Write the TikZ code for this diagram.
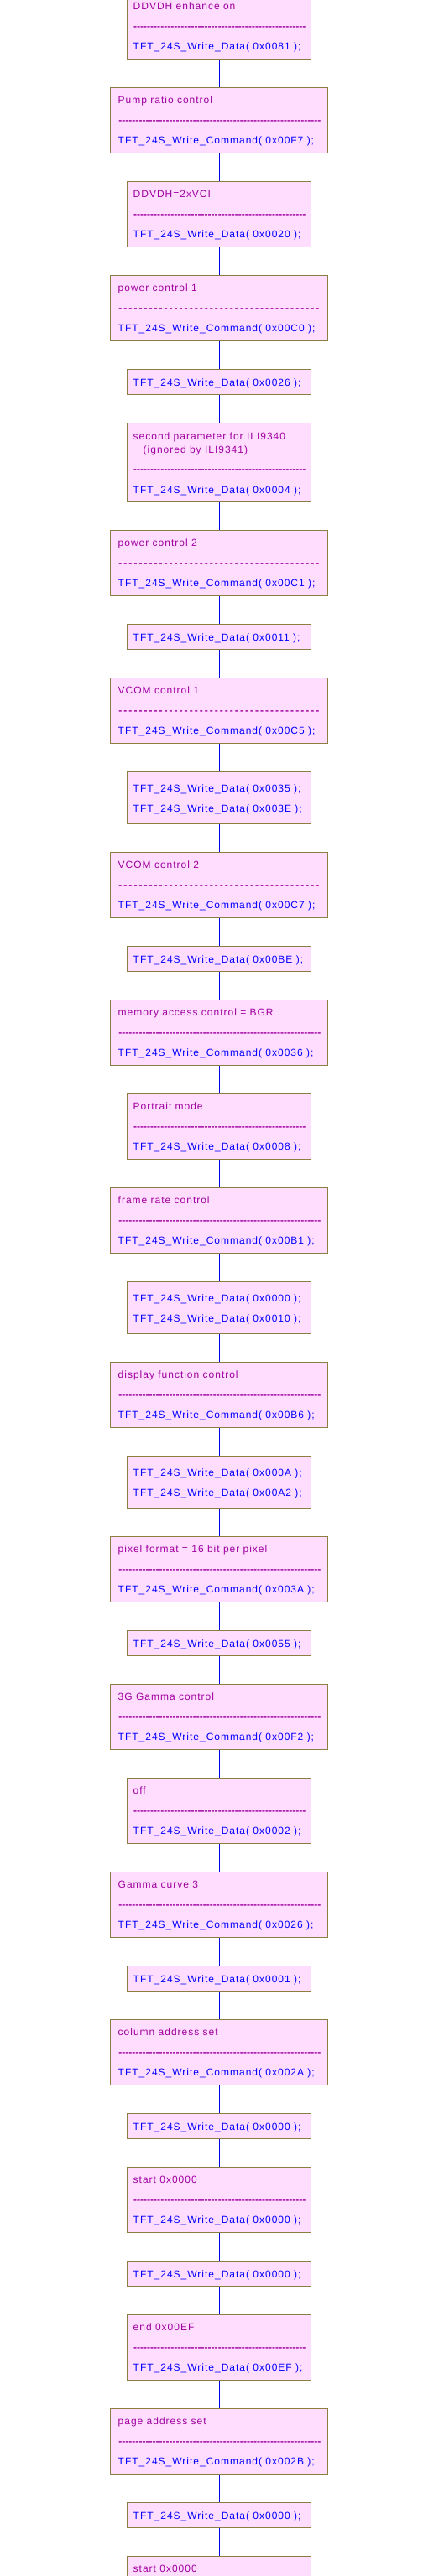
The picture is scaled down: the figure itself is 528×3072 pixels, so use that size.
\documentclass[tikz,border=0pt]{standalone}
\usepackage{fontspec}
\usetikzlibrary{backgrounds}
\setmainfont{Liberation Sans}[LetterSpace=8.3]
\newfontfamily\dashfont{Liberation Sans}[UprightFont=* Bold]
\definecolor{boxfill}{HTML}{FFDDFF}
\definecolor{boxline}{HTML}{8B7F40}
\definecolor{ttlcol}{HTML}{A000A0}
\definecolor{codecol}{HTML}{0000FF}
\definecolor{linkblue}{RGB}{0,0,230}
\def\lxn{158.5}
\def\lxw{140.5}
\def\dxn{158.8}
\def\dxw{141.2}
\newcommand\dlcn{{\dashfont\hbox to 205.5pt{\xleaders\hbox{-}\hfill}}}
\newcommand\dlcw{{\dashfont\hbox to 241pt{\xleaders\hbox{-}\hfill}}}
\newcommand\dlsn{{\dashfont\hbox to 205.5pt{\xleaders\hbox{-\kern2pt}\hfill}}}
\newcommand\dlsw{{\dashfont\hbox to 241pt{\xleaders\hbox{-\kern2pt}\hfill}}}
\newcommand\TB[6]{%
  \node[bx#2, minimum height=78pt] (#1) at (261,#3) {};
  \node[ttl] (#1-t) at ({\csname lx#2\endcsname},{#3+19.3}) {#4};
  \node[dsh] (#1-d) at ({\csname dx#2\endcsname},{#3+42.6}) {\csname dl#5#2\endcsname};
  \node[cod] (#1-c) at ({\csname lx#2\endcsname},{#3+67.3}) {#6};
}
\newcommand\SB[3]{%
  \node[bxn, minimum height=30pt] (#1) at (261,#2) {};
  \node[cod] (#1-c) at (\lxn,{#2+19.5}) {#3};
}
\newcommand\DB[4]{%
  \node[bxn, minimum height=62pt] (#1) at (261,#2) {};
  \node[cod] (#1-c1) at (\lxn,{#2+23.5}) {#3};
  \node[cod] (#1-c2) at (\lxn,{#2+47.5}) {#4};
}
\begin{document}
\begin{tikzpicture}[x=1pt,y=-1pt,
  bx/.style={rectangle, draw=boxline, fill=boxfill, line width=1pt, inner sep=0pt, outer sep=0pt, anchor=north},
  bxn/.style={bx, minimum width=219pt},
  bxw/.style={bx, minimum width=259pt},
  ttl/.style={anchor=base west, inner sep=0pt, text=ttlcol, font=\fontsize{12}{14}\selectfont},
  cod/.style={anchor=base west, inner sep=0pt, text=codecol, font=\fontsize{12}{14}\selectfont},
  dsh/.style={anchor=base west, inner sep=0pt, text=ttlcol, font=\fontsize{12}{14}\selectfont},
  link/.style={fill=linkblue, draw=none}]
\useasboundingbox (0,0) rectangle (528,3072);
\clip (0,0) rectangle (528,3072);
\TB{b1}{n}{-7.5}{DDVDH enhance on}{c}{TFT\_24S\_Write\_Data( 0x0081 );}
\TB{b2}{w}{104.5}{Pump ratio control}{c}{TFT\_24S\_Write\_Command( 0x00F7 );}
\TB{b3}{n}{216.5}{DDVDH=2xVCI}{c}{TFT\_24S\_Write\_Data( 0x0020 );}
\TB{b4}{w}{328.5}{power control 1}{s}{TFT\_24S\_Write\_Command( 0x00C0 );}
\SB{b5}{440.5}{TFT\_24S\_Write\_Data( 0x0026 );}
% box 6
\node[bxn, minimum height=94pt] (b6) at (261,504.5) {};
\node[ttl] (b6-t1) at (\lxn,524.3) {second parameter for ILI9340};
\node[ttl] (b6-t2) at (170.5,540) {(ignored by ILI9341)};
\node[dsh] (b6-d) at (\dxn,563.6) {\dlcn};
\node[cod] (b6-c) at (\lxn,588) {TFT\_24S\_Write\_Data( 0x0004 );};
\TB{b7}{w}{632.5}{power control 2}{s}{TFT\_24S\_Write\_Command( 0x00C1 );}
\SB{b8}{744.5}{TFT\_24S\_Write\_Data( 0x0011 );}
\TB{b9}{w}{808.5}{VCOM control 1}{s}{TFT\_24S\_Write\_Command( 0x00C5 );}
\DB{b10}{920.5}{TFT\_24S\_Write\_Data( 0x0035 );}{TFT\_24S\_Write\_Data( 0x003E );}
\TB{b11}{w}{1016.5}{VCOM control 2}{s}{TFT\_24S\_Write\_Command( 0x00C7 );}
\SB{b12}{1128.5}{TFT\_24S\_Write\_Data( 0x00BE );}
\TB{b13}{w}{1192.5}{memory access control = BGR}{c}{TFT\_24S\_Write\_Command( 0x0036 );}
\TB{b14}{n}{1304.5}{Portrait mode}{c}{TFT\_24S\_Write\_Data( 0x0008 );}
\TB{b15}{w}{1416.5}{frame rate control}{c}{TFT\_24S\_Write\_Command( 0x00B1 );}
\DB{b16}{1528.5}{TFT\_24S\_Write\_Data( 0x0000 );}{TFT\_24S\_Write\_Data( 0x0010 );}
\TB{b17}{w}{1624.5}{display function control}{c}{TFT\_24S\_Write\_Command( 0x00B6 );}
\DB{b18}{1736.5}{TFT\_24S\_Write\_Data( 0x000A );}{TFT\_24S\_Write\_Data( 0x00A2 );}
\TB{b19}{w}{1832.5}{pixel format = 16 bit per pixel}{c}{TFT\_24S\_Write\_Command( 0x003A );}
\SB{b20}{1944.5}{TFT\_24S\_Write\_Data( 0x0055 );}
\TB{b21}{w}{2008.5}{3G Gamma control}{c}{TFT\_24S\_Write\_Command( 0x00F2 );}
\TB{b22}{n}{2120.5}{off}{c}{TFT\_24S\_Write\_Data( 0x0002 );}
\TB{b23}{w}{2232.5}{Gamma curve 3}{c}{TFT\_24S\_Write\_Command( 0x0026 );}
\SB{b24}{2344.5}{TFT\_24S\_Write\_Data( 0x0001 );}
\TB{b25}{w}{2408.5}{column address set}{c}{TFT\_24S\_Write\_Command( 0x002A );}
\SB{b26}{2520.5}{TFT\_24S\_Write\_Data( 0x0000 );}
\TB{b27}{n}{2584.5}{start 0x0000}{c}{TFT\_24S\_Write\_Data( 0x0000 );}
\SB{b28}{2696.5}{TFT\_24S\_Write\_Data( 0x0000 );}
\TB{b29}{n}{2760.5}{end 0x00EF}{c}{TFT\_24S\_Write\_Data( 0x00EF );}
\TB{b30}{w}{2872.5}{page address set}{c}{TFT\_24S\_Write\_Command( 0x002B );}
\SB{b31}{2984.5}{TFT\_24S\_Write\_Data( 0x0000 );}
% last box, only its title is inside the page
\node[bxn, minimum height=78pt] (b32) at (261,3048.5) {};
\node[ttl] (b32-t) at (\lxn,3067.8) {start 0x0000};
\begin{pgfonlayer}{background}
  \fill[white] (0,0) rectangle (528,3072);
  \begin{scope}[color=linkblue]
  \foreach \i [evaluate=\i as \j using int(\i+1)] in {1,...,31}
    \path[link] ([yshift=-0.5pt]b\i.south) rectangle ([xshift=1pt,yshift=0.5pt]b\j.north);
  \end{scope}
\end{pgfonlayer}
\end{tikzpicture}
\end{document}
